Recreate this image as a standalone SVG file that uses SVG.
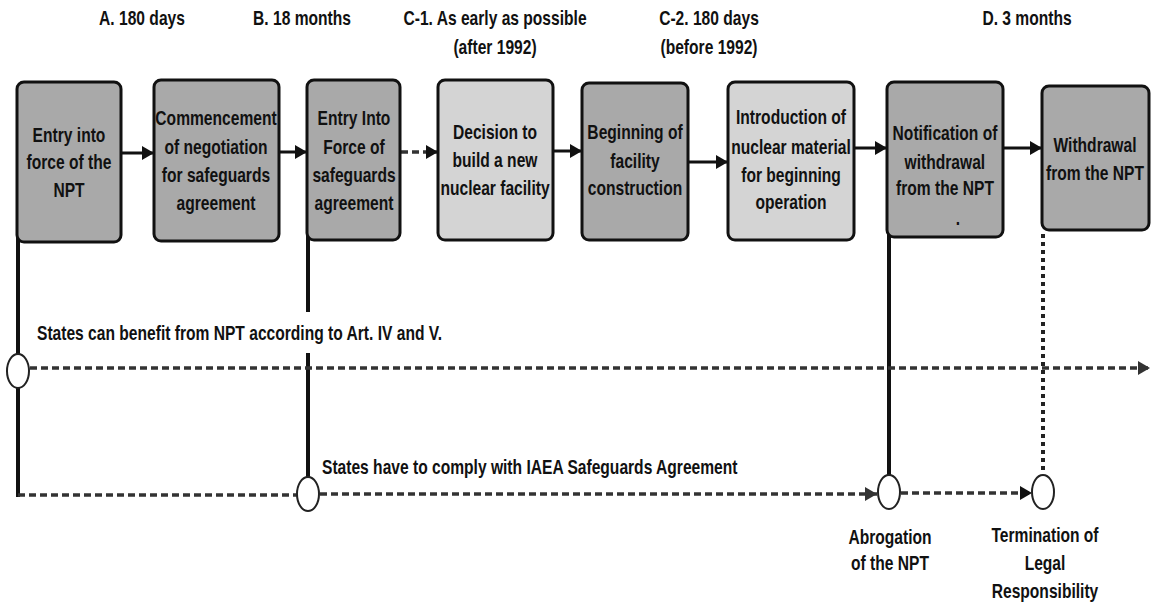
<svg xmlns="http://www.w3.org/2000/svg" width="1151" height="613" viewBox="0 0 1151 613">
  <defs>
    <style>
      text { font-family: "Liberation Sans", Arial, sans-serif; font-weight: bold; font-size: 20px; fill: #111; text-anchor: middle; dominant-baseline: central; transform-box: fill-box; transform-origin: center; transform: scaleX(0.78); }
      .lbl { text-anchor: start; transform-origin: left center; }
      .box { stroke: #111; stroke-width: 3; }
      .dark { fill: #a9a9a9; }
      .light { fill: #d4d4d4; }
      .solid { stroke: #111; stroke-width: 3; fill: none; }
      .vline { stroke: #111; stroke-width: 4; fill: none; }
      .dash { stroke: #333; stroke-width: 3.5; fill: none; stroke-dasharray: 7 4; }
      .dot { stroke: #222; stroke-width: 4; fill: none; stroke-dasharray: 4 4; }
      .node { fill: #fff; stroke: #222; stroke-width: 2; }
    </style>
    <marker id="head" markerUnits="userSpaceOnUse" markerWidth="12" markerHeight="14" refX="12" refY="7" orient="auto">
      <path d="M0,0 L12,7 L0,14 z" fill="#111"/>
    </marker>
    <marker id="headGray" markerUnits="userSpaceOnUse" markerWidth="12" markerHeight="14" refX="12" refY="7" orient="auto">
      <path d="M0,0 L12,7 L0,14 z" fill="#333"/>
    </marker>
  </defs>
  <rect width="1151" height="613" fill="#fff"/>

  <!-- time-span labels above the steps -->
  <g id="periods">
    <text x="142" y="18">A. 180 days</text>
    <text x="302" y="18">B. 18 months</text>
    <text x="495" y="18">C-1. As early as possible</text>
    <text x="495" y="47">(after 1992)</text>
    <text x="709" y="18">C-2. 180 days</text>
    <text x="709" y="47">(before 1992)</text>
    <text x="1027" y="18">D. 3 months</text>
  </g>

  <!-- timelines and links -->
  <g id="connectors">
    <!-- vertical drops -->
    <line class="vline" x1="18" y1="130" x2="18" y2="354"/>
    <line class="vline" x1="18" y1="388" x2="18" y2="497"/>
    <line class="vline" x1="308" y1="130" x2="308" y2="312"/>
    <line class="vline" x1="308" y1="353" x2="308" y2="477"/>
    <line class="vline" x1="889" y1="200" x2="889" y2="475"/>
    <line class="dot" x1="1043" y1="234" x2="1043" y2="474"/>

    <!-- step arrows -->
    <line class="solid" x1="121" y1="153" x2="154" y2="153" marker-end="url(#head)"/>
    <line class="solid" x1="279" y1="152" x2="307" y2="152" marker-end="url(#head)"/>
    <line class="dash" x1="401" y1="152" x2="438" y2="152" marker-end="url(#head)"/>
    <line class="solid" x1="553" y1="151" x2="582" y2="151" marker-end="url(#head)"/>
    <line class="solid" x1="688" y1="162" x2="728" y2="162" marker-end="url(#head)"/>
    <line class="solid" x1="854" y1="148" x2="887" y2="148" marker-end="url(#head)"/>
    <line class="solid" x1="1003" y1="148" x2="1042" y2="148" marker-end="url(#head)"/>

    <!-- benefit period -->
    <line class="dash" x1="30" y1="368" x2="1150" y2="368" marker-end="url(#headGray)"/>
    <!-- safeguards period -->
    <line class="dash" x1="18" y1="495" x2="297" y2="495"/>
    <line class="dash" x1="320" y1="494" x2="877" y2="494" marker-end="url(#headGray)"/>
    <line class="dash" x1="901" y1="493" x2="1032" y2="493" marker-end="url(#head)"/>
  </g>

  <!-- steps -->
  <g id="entry-npt">
    <rect class="box dark" x="17" y="82" width="104" height="160" rx="7"/>
    <text x="69" y="135">Entry into</text>
    <text x="69" y="162">force of the</text>
    <text x="69" y="190">NPT</text>
  </g>
  <g id="negotiation">
    <rect class="box dark" x="154" y="80" width="125" height="161" rx="7"/>
    <text x="216" y="118">Commencement</text>
    <text x="216" y="147">of negotiation</text>
    <text x="216" y="175">for safeguards</text>
    <text x="216" y="203">agreement</text>
  </g>
  <g id="entry-safeguards">
    <rect class="box dark" x="307" y="80" width="93" height="160" rx="7"/>
    <text x="354" y="118">Entry Into</text>
    <text x="354" y="147">Force of</text>
    <text x="354" y="175">safeguards</text>
    <text x="354" y="203">agreement</text>
  </g>
  <g id="decision">
    <rect class="box light" x="438" y="80" width="115" height="160" rx="7"/>
    <text x="495" y="132">Decision to</text>
    <text x="495" y="160">build a new</text>
    <text x="495" y="188">nuclear facility</text>
  </g>
  <g id="construction">
    <rect class="box dark" x="582" y="83" width="106" height="157" rx="7"/>
    <text x="635" y="132">Beginning of</text>
    <text x="635" y="161">facility</text>
    <text x="635" y="188">construction</text>
  </g>
  <g id="introduction">
    <rect class="box light" x="728" y="82" width="126" height="158" rx="7"/>
    <text x="791" y="117">Introduction of</text>
    <text x="791" y="147">nuclear material</text>
    <text x="791" y="175">for beginning</text>
    <text x="791" y="202">operation</text>
  </g>
  <g id="notification">
    <rect class="box dark" x="887" y="82" width="116" height="155" rx="7"/>
    <text x="945" y="133">Notification of</text>
    <text x="945" y="162">withdrawal</text>
    <text x="945" y="188">from the NPT</text>
    <text x="958" y="218">.</text>
  </g>
  <g id="withdrawal">
    <rect class="box dark" x="1042" y="86" width="107" height="144" rx="7"/>
    <text x="1095" y="145">Withdrawal</text>
    <text x="1095" y="173">from the NPT</text>
  </g>

  <!-- milestones on the timelines -->
  <g id="benefit-start">
    <ellipse class="node" cx="18" cy="371" rx="11" ry="17"/>
    <text class="lbl" x="37" y="333">States can benefit from NPT according to Art. IV and V.</text>
  </g>
  <g id="safeguards-start">
    <ellipse class="node" cx="308" cy="494" rx="11" ry="17"/>
    <text class="lbl" x="322" y="467">States have to comply with IAEA Safeguards Agreement</text>
  </g>
  <g id="abrogation">
    <ellipse class="node" cx="889" cy="492" rx="11" ry="17"/>
    <text x="890" y="537">Abrogation</text>
    <text x="890" y="563">of the NPT</text>
  </g>
  <g id="termination">
    <ellipse class="node" cx="1043" cy="492" rx="11" ry="17"/>
    <text x="1045" y="535">Termination of</text>
    <text x="1045" y="563">Legal</text>
    <text x="1045" y="591">Responsibility</text>
  </g>
</svg>
